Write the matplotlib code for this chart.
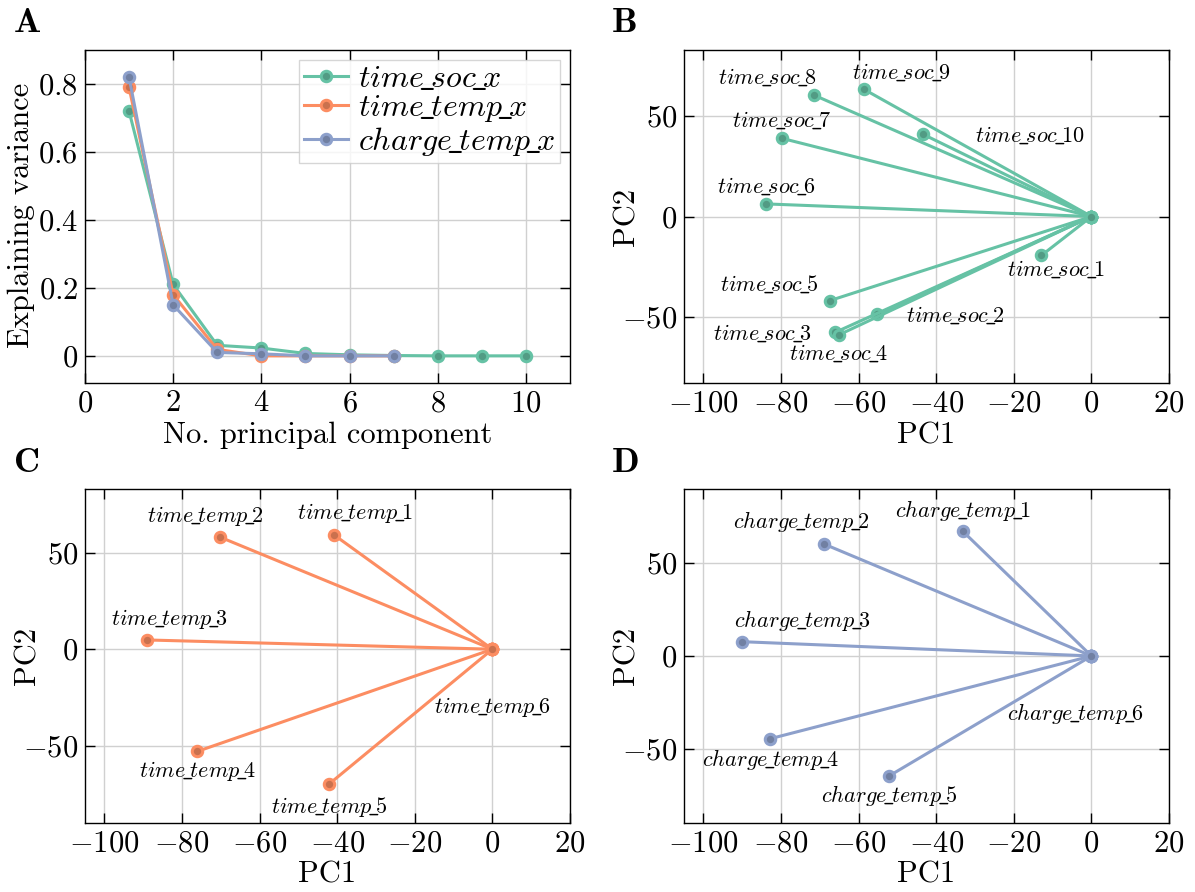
import numpy as np
import matplotlib.pyplot as plt
from matplotlib.ticker import FuncFormatter, MultipleLocator

plt.rcParams['font.family'] = 'serif'
plt.rcParams['font.serif'] = ['cmr10']
plt.rcParams['mathtext.fontset'] = 'cm'
plt.rcParams['axes.formatter.use_mathtext'] = True

# colours (seaborn Set2)
green = '#66c2a5'
orange = '#fc8d62'
blue = '#8da0cb'

# ---- panel A: explained variance per component
comp_soc = [1, 2, 3, 4, 5, 6, 7, 8, 9, 10]
var_soc = [0.72, 0.21, 0.031, 0.023, 0.007, 0.003, 0.001, 0.0, 0.0, 0.0]
comp_temp = [1, 2, 3, 4, 5, 6, 7]
var_temp = [0.79, 0.18, 0.019, 0.0, 0.0, 0.0, 0.0]
comp_charge = [1, 2, 3, 4, 5, 6, 7]
var_charge = [0.82, 0.15, 0.01, 0.006, 0.0, 0.0, 0.0]

# ---- panel B: time_soc loadings
soc_names = ['time_soc_%d' % i for i in range(1, 11)]
soc_pc1 = [-12.9, -55.2, -66.1, -65.1, -67.4, -83.9, -79.8, -71.6, -58.7, -43.4]
soc_pc2 = [-19.4, -48.8, -57.8, -59.0, -41.9, 6.3, 39.0, 60.6, 63.5, 41.0]
soc_lab_x = [-9.1, -35.0, -84.7, -65.1, -82.9, -83.8, -79.9, -83.5, -49.0, -15.8]
soc_lab_y = [-26.2, -49.2, -58.1, -68.1, -33.6, 15.0, 47.8, 69.3, 72.0, 40.4]

# ---- panel C: time_temp loadings
temp_names = ['time_temp_%d' % i for i in range(1, 7)]
temp_pc1 = [-40.8, -70.1, -89.0, -76.0, -42.0, 0.0]
temp_pc2 = [59.2, 58.0, 4.8, -52.9, -69.7, 0.0]
temp_lab_x = [-35.3, -74.0, -83.1, -76.0, -42.0, 0.0]
temp_lab_y = [70.4, 69.0, 15.9, -63.0, -81.5, -29.8]

# ---- panel D: charge_temp loadings
charge_names = ['charge_temp_%d' % i for i in range(1, 7)]
charge_pc1 = [-33.1, -69.0, -90.0, -82.8, -52.1, 0.0]
charge_pc2 = [67.1, 60.4, 7.7, -44.6, -64.6, 0.0]
charge_lab_x = [-33.2, -74.8, -74.5, -82.8, -52.1, -4.1]
charge_lab_y = [78.6, 72.3, 19.2, -55.8, -75.2, -31.1]


def darker(c, f=0.8):
    r, g, b = [int(c[i:i + 2], 16) / 255. for i in (1, 3, 5)]
    return (r * f, g * f, b * f)


def mathit(s):
    return r'$' + s.replace('_', r'\!\_\!') + r'$'


def style(ax):
    ax.grid(True, color='#d0d0d0', linewidth=1.0)
    ax.set_axisbelow(True)
    ax.tick_params(direction='in', top=True, right=True, length=7, width=1,
                   labelsize=22, pad=5)
    ax.xaxis.set_major_formatter(FuncFormatter(lambda v, p: r'$%g$' % v))
    ax.yaxis.set_major_formatter(FuncFormatter(lambda v, p: r'$%g$' % v))
    for sp in ax.spines.values():
        sp.set_linewidth(1.0)


def mk(color):
    return dict(marker='o', markersize=7.5, markeredgewidth=2.2,
                markerfacecolor=darker(color), markeredgecolor=color,
                linewidth=2.2, color=color)


def loadings(ax, pc1, pc2, names, lab_x, lab_y, color, ylim):
    for i in range(len(pc1)):
        ax.plot([0, pc1[i]], [0, pc2[i]], **mk(color))
        ax.text(lab_x[i], lab_y[i], mathit(names[i]), fontsize=16,
                ha='center', va='center')
    ax.set_xlim(-105, 20)
    ax.set_ylim(*ylim)
    ax.xaxis.set_major_locator(MultipleLocator(20))
    ax.yaxis.set_major_locator(MultipleLocator(50))
    ax.set_xlabel('PC1', fontsize=22, labelpad=3)
    ax.set_ylabel('PC2', fontsize=22)
    ax.yaxis.set_label_coords(-0.09, 0.5)
    style(ax)


fig = plt.figure(figsize=(11.95, 8.92), dpi=100)
axA = fig.add_axes([0.0711, 0.5706, 0.4059, 0.3733])
axB = fig.add_axes([0.5724, 0.5706, 0.4059, 0.3733])
axC = fig.add_axes([0.0711, 0.0774, 0.4059, 0.3744])
axD = fig.add_axes([0.5724, 0.0774, 0.4059, 0.3744])

axA.plot(comp_soc, var_soc, label=mathit('time_soc_x'), **mk(green))
axA.plot(comp_temp, var_temp, label=mathit('time_temp_x'), **mk(orange))
axA.plot(comp_charge, var_charge, label=mathit('charge_temp_x'), **mk(blue))
axA.set_xlim(0, 11)
axA.set_ylim(-0.08, 0.9)
axA.xaxis.set_major_locator(MultipleLocator(2))
axA.yaxis.set_major_locator(MultipleLocator(0.2))
axA.set_xlabel('No. principal component', fontsize=22, labelpad=3)
axA.set_ylabel('Explaining variance', fontsize=22)
axA.yaxis.set_label_coords(-0.104, 0.503)
style(axA)
leg = axA.legend(loc='upper right', fontsize=23, fancybox=False,
                 framealpha=0.8, edgecolor='#cccccc', borderpad=0.15,
                 handlelength=1.4, handletextpad=0.3, labelspacing=0.02,
                 borderaxespad=0.3)
leg.get_frame().set_linewidth(1.0)

loadings(axB, soc_pc1, soc_pc2, soc_names, soc_lab_x, soc_lab_y, green, (-83, 83))
loadings(axC, temp_pc1, temp_pc2, temp_names, temp_lab_x, temp_lab_y, orange, (-90, 83))
loadings(axD, charge_pc1, charge_pc2, charge_names, charge_lab_x, charge_lab_y, blue, (-90, 90))

for x, y, s in [(0.011, 0.964, 'A'), (0.511, 0.964, 'B'),
                (0.011, 0.471, 'C'), (0.511, 0.471, 'D')]:
    fig.text(x, y, r'$\mathbf{%s}$' % s, fontsize=26, va='baseline')

fig.savefig('out.png', dpi=100)
